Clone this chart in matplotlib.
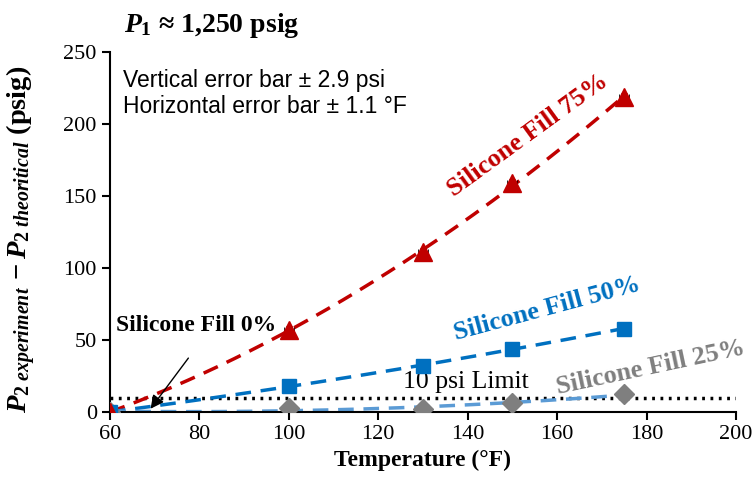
import numpy as np
import matplotlib
matplotlib.use('Agg')
import matplotlib.pyplot as plt

plt.rcParams['font.family'] = 'Liberation Serif'
plt.rcParams['mathtext.fontset'] = 'custom'
plt.rcParams['mathtext.rm'] = 'Liberation Serif:bold'
plt.rcParams['mathtext.it'] = 'Liberation Serif:italic:bold'
plt.rcParams['mathtext.bf'] = 'Liberation Serif:bold'

# data
temp = [60, 100, 130, 150, 175]
fill75 = [0, 57, 111, 159, 219]
fill50 = [0, 18, 32, 44, 58]
fill25 = [0, 3, 2, 6, 12.5]
limit = 10
err_y = 2.9
err_x = 1.1

c75 = '#C00000'
c50 = '#0070C0'
c25 = '#7F7F7F'
c25_line = '#5B9BD5'

fig = plt.figure(figsize=(7.56, 4.83), dpi=100)
ax = fig.add_axes([0.1455, 0.147, 0.828, 0.745])

# quadratic trendlines
xs = np.linspace(temp[0], temp[-1], 200)
for vals, col in [(fill75, c75), (fill50, c50), (fill25, c25_line)]:
    p = np.polyfit(temp, vals, 2)
    ax.plot(xs, np.polyval(p, xs), color=col, lw=2.5, ls=(0, (4.5, 2.8)), zorder=2)

# limit line
ax.plot([60, 200], [limit, limit], color='black', lw=2.5, ls=(0, (0.8, 1.6)), zorder=1)

# error bars + markers
for vals, col, mk, ms in [(fill25, c25, 'D', 10), (fill50, c50, 's', 10), (fill75, c75, '^', 13)]:
    ax.errorbar(temp, vals, yerr=err_y, xerr=err_x, fmt='none', ecolor='black',
                elinewidth=0.6, capsize=2, capthick=0.6, zorder=3)
    ax.plot(temp, vals, ls='none', marker=mk, ms=ms, color=col, zorder=4)

ax.set_xlim(60, 200)
ax.set_ylim(0, 250)
ax.set_xticks(np.arange(60, 201, 20))
ax.set_yticks(np.arange(0, 251, 50))
ax.tick_params(direction='out', length=6, width=1.5, labelsize=16)
for s in ['top', 'right']:
    ax.spines[s].set_visible(False)
for s in ['left', 'bottom']:
    ax.spines[s].set_linewidth(1.5)

ax.set_xlabel('Temperature (°F)', fontsize=17, fontweight='bold', labelpad=4)
ax.set_ylabel(r'$P_{2\ experiment}\,-P_{2\ theoritical}$ (psig)', fontsize=20.5,
              fontweight='bold', labelpad=2)
ax.yaxis.set_label_coords(-0.115, 0.48)

# annotations
ax.text(153.5, 192, 'Silicone Fill 75%', color=c75, fontsize=19, fontweight='bold',
        rotation=36, ha='center', va='center', rotation_mode='anchor')
ax.text(157.8, 72, 'Silicone Fill 50%', color=c50, fontsize=19, fontweight='bold',
        rotation=15, ha='center', va='center', rotation_mode='anchor')
ax.text(181, 31, 'Silicone Fill 25%', color=c25, fontsize=19, fontweight='bold',
        rotation=12, ha='center', va='center', rotation_mode='anchor')
ax.text(79.2, 60, 'Silicone Fill 0%', color='black', fontsize=17, fontweight='bold',
        ha='center', va='center')
ax.text(139.7, 21, '10 psi Limit', color='black', fontsize=18.5, ha='center', va='center')
ax.annotate('', xy=(68.7, 0.7), xytext=(77.9, 39),
            arrowprops=dict(arrowstyle='-|>', color='black', lw=1, mutation_scale=20))

fig.text(123 / 756, 1 - 87 / 483, 'Vertical error bar ± 2.9 psi', fontsize=16.5,
         family='Liberation Sans', va='baseline')
fig.text(123 / 756, 1 - 113 / 483, 'Horizontal error bar ± 1.1 °F', fontsize=16.5,
         family='Liberation Sans', va='baseline')
fig.text(212 / 756, 1 - 25 / 483, r'$P_{\mathit{1}}$ ≈ 1,250 psig', fontsize=20,
         fontweight='bold', ha='center', va='center')

fig.savefig('out.png', dpi=100)
